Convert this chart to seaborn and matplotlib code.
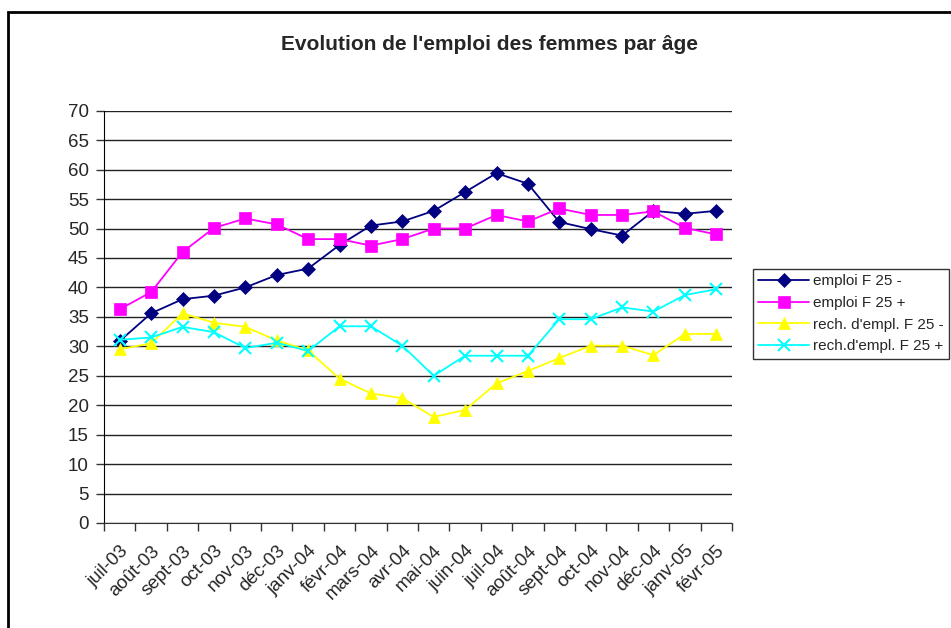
import numpy as np
import pandas as pd
import matplotlib
matplotlib.use("Agg")
import matplotlib.pyplot as plt
import seaborn as sns
from matplotlib.patches import Rectangle
from matplotlib.ticker import FixedLocator

# data
months = ["juil-03", "août-03", "sept-03", "oct-03", "nov-03", "déc-03",
          "janv-04", "févr-04", "mars-04", "avr-04", "mai-04", "juin-04",
          "juil-04", "août-04", "sept-04", "oct-04", "nov-04", "déc-04",
          "janv-05", "févr-05"]
emploi_moins = [30.9, 35.6, 38.0, 38.6, 40.0, 42.1, 43.2, 47.2, 50.5, 51.2,
                53.0, 56.2, 59.4, 57.6, 51.1, 49.9, 48.8, 53.0, 52.5, 53.0]
emploi_plus = [36.3, 39.2, 46.0, 50.1, 51.7, 50.7, 48.2, 48.2, 47.1, 48.2,
               50.0, 50.0, 52.3, 51.2, 53.4, 52.3, 52.3, 52.9, 50.1, 49.0]
rech_moins = [29.5, 30.5, 35.6, 34.0, 33.3, 31.0, 29.3, 24.5, 22.0, 21.2,
              18.0, 19.2, 23.7, 25.8, 28.0, 30.1, 30.1, 28.5, 32.1, 32.1]
rech_plus = [31.1, 31.5, 33.3, 32.4, 29.7, 30.6, 29.2, 33.4, 33.4, 30.1,
             25.0, 28.4, 28.4, 28.4, 34.6, 34.6, 36.6, 35.9, 38.7, 39.7]

series = ["emploi F 25 -", "emploi F 25 +", "rech. d'empl. F 25 -", "rech.d'empl. F 25 +"]
colors = ["#000080", "#FF00FF", "#FFFF00", "#00FFFF"]
markers = ["D", "s", "^", "x"]
msizes = [7.5, 8, 9, 9]

sns.set_style("white")
plt.rcParams["font.family"] = ["Liberation Sans", "DejaVu Sans"]

fig = plt.figure(figsize=(9.51, 6.28), dpi=100)
ax = fig.add_axes([0.1094, 0.1672, 0.6603, 0.6565])

for name, vals, c, m, ms in zip(series, [emploi_moins, emploi_plus, rech_moins, rech_plus],
                                colors, markers, msizes):
    sns.lineplot(x=np.arange(len(months)), y=vals, ax=ax, color=c, marker=m,
                 markersize=ms, markeredgecolor=c, markeredgewidth=1.5 if m == "x" else 0.5,
                 linewidth=1.3, label=name)

ax.set_xlim(-0.5, len(months) - 0.5)
ax.set_ylim(0, 70)
ax.set_yticks(np.arange(0, 71, 5))
ax.set_xticks(np.arange(len(months)))
ax.set_xticklabels(months, rotation=45, ha="right", rotation_mode="anchor")
ax.xaxis.set_minor_locator(FixedLocator(np.arange(-0.5, len(months), 1)))
ax.tick_params(axis="x", which="major", length=0, labelsize=13.5, pad=14)
ax.tick_params(axis="x", which="minor", length=6, width=1, color="#333333", bottom=True)
ax.tick_params(axis="y", length=6, width=1, color="#333333", labelsize=13.5, left=True, pad=5)
ax.grid(axis="y", color="#222222", linewidth=1)
ax.grid(axis="x", visible=False)
for s in ["top", "right"]:
    ax.spines[s].set_visible(False)
ax.spines["left"].set_color("black")
ax.spines["bottom"].set_color("#333333")
ax.set_xlabel("")
ax.set_ylabel("")

leg = ax.legend(loc="upper left", bbox_to_anchor=(753 / 951, 1 - 269 / 628),
                bbox_transform=fig.transFigure, fontsize=11, frameon=True,
                fancybox=False, edgecolor="black", handlelength=3.3,
                handletextpad=0.3, labelspacing=0.5, borderpad=0.35,
                borderaxespad=0)
leg.get_frame().set_linewidth(1)

fig.text(0.515, 1 - 45 / 628, "Evolution de l'emploi des femmes par âge",
         ha="center", va="center", fontsize=15, fontweight="bold")

fig.patches.append(Rectangle((8 / 951, -0.05), 1.1, 1 - 12 / 628 + 0.05,
                             transform=fig.transFigure, fill=False,
                             edgecolor="black", linewidth=2, clip_on=False))

fig.savefig("out.png", dpi=100)
